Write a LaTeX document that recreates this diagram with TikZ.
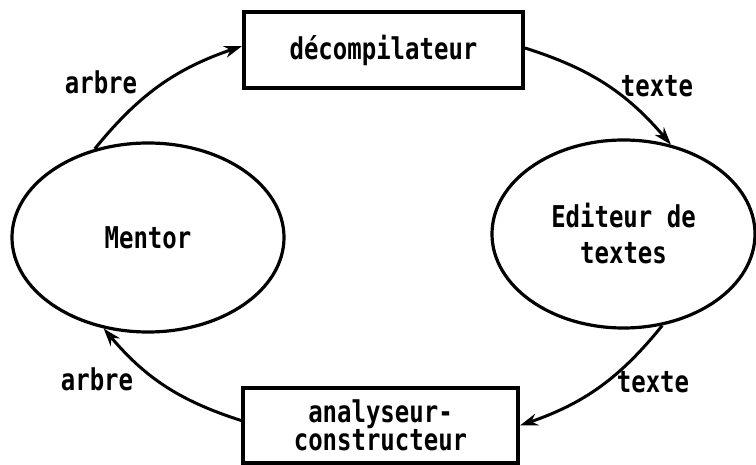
\documentclass[tikz,border=0pt]{standalone}
\usepackage{fontspec}
\setmonofont[FakeStretch=0.8]{DejaVu Sans Mono}
\usetikzlibrary{shapes.geometric,arrows.meta}
\begin{document}
\begin{tikzpicture}[x=1pt,y=-1pt,
  txt/.style={font=\ttfamily\bfseries\fontsize{30}{28}\selectfont},
  boxnode/.style={txt,draw,line width=3.8pt,rectangle,inner sep=0pt,align=center},
  ellnode/.style={txt,draw,line width=3.2pt,ellipse,inner sep=0pt,align=center},
  flow/.style={line width=3pt,-{Stealth[length=18pt,width=12pt]},bend left=16},
  lbl/.style={txt,inner sep=0pt}]
\useasboundingbox (0,0) rectangle (756,465);
\node[boxnode,minimum width=279pt,minimum height=76pt] (dec) at (383.5,50) {d\'ecompilateur};
\node[boxnode,minimum width=275pt,minimum height=75pt] (ana) at (380.5,425.5) {analyseur-\\constructeur};
\node[ellnode,minimum width=272pt,minimum height=189pt] (mentor) at (148,237.5) {Mentor};
\node[ellnode,minimum width=263pt,minimum height=188pt,font=\ttfamily\bfseries\fontsize{30}{36}\selectfont] (edit) at (623.5,234) {Editeur de\\textes};
\draw[flow] (mentor.121) to ([yshift=4pt]dec.west);
\draw[flow] ([yshift=2pt]dec.east) to (edit.62);
\draw[flow] (edit.293) to (ana.east);
\draw[flow] ([yshift=5pt]ana.west) to (mentor.244);
\node[lbl] (l1) at (101,82) {arbre};
\node[lbl] (l2) at (657,86) {texte};
\node[lbl] (l3) at (653,382) {texte};
\node[lbl] (l4) at (97,379) {arbre};
\end{tikzpicture}
\end{document}
